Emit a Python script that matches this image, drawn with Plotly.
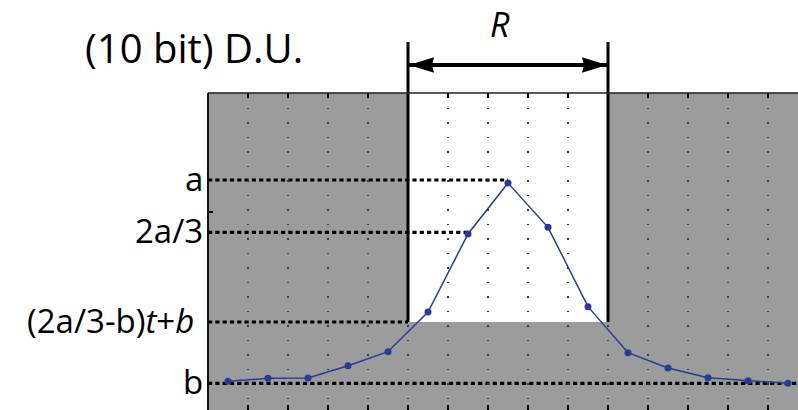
import plotly.graph_objects as go

# ---- data ----
sample_index = [0, 1, 2, 3, 4, 5, 6, 7, 8, 9, 10, 11, 12, 13, 14]
du_values = [86, 95, 96, 133, 175, 294, 528, 681, 548, 310, 172, 126, 97, 88, 80]

level_labels = ["a", "2a/3", "(2a/3-b)<i>t</i>+<i>b</i>&nbsp;", "b"]
level_values = [690, 533, 264, 80]
level_stop_x = [7, 6, 4.5, 14.25]          # where each dotted guide ends

window_start = 4.5
window_end = 9.5
window_label = "<i>R</i>"
y_title = "(10 bit) D.U."

x_grid = [0.5, 1.5, 2.5, 3.5, 4.5, 5.5, 6.5, 7.5, 8.5, 9.5, 10.5, 11.5, 12.5, 13.5]
y_ticks = [594]

x_range = [-0.5, 14.25]
y_range = [0, 951]

# ---- layout constants ----
W, H = 798, 410
ML, MR, MT, MB = 208, 0, 93, 0
plot_h = H - MT - MB
GRAY = "#9c9c9c"
BLUE = "#2c3a96"
FONT = "Open Sans"

def paper_y(v):
    return (v - y_range[0]) / (y_range[1] - y_range[0])

fig = go.Figure()
fig.add_trace(go.Scatter(
    x=sample_index, y=du_values, mode="lines+markers",
    line=dict(color=BLUE, width=1.5),
    marker=dict(color=BLUE, size=7),
    showlegend=False, hoverinfo="skip", cliponaxis=False,
))

shapes = []
# white window above the threshold level
shapes.append(dict(type="rect", xref="x", yref="y", layer="below",
                   x0=window_start, x1=window_end,
                   y0=level_values[2], y1=y_range[1],
                   fillcolor="white", line=dict(width=0)))
# dotted guide lines
for val, stop in zip(level_values, level_stop_x):
    shapes.append(dict(type="line", xref="x", yref="y", layer="below",
                       x0=x_range[0], x1=stop, y0=val, y1=val,
                       line=dict(color="black", width=3.2, dash="4.2px,3.1px")))
# window boundaries (extend above plot)
top_line = 1 + 51 / plot_h
for xv in (window_start, window_end):
    shapes.append(dict(type="line", xref="x", yref="paper", layer="above",
                       x0=xv, x1=xv, y0=paper_y(level_values[2]), y1=top_line,
                       line=dict(color="black", width=3)))
# double arrow
arrow_y = 1 + 28 / plot_h
shapes.append(dict(type="line", xref="x", yref="paper", layer="above",
                   x0=window_start, x1=window_end, y0=arrow_y, y1=arrow_y,
                   line=dict(color="black", width=4)))
shapes.append(dict(type="path", xref="x", yref="paper", layer="above",
                   xsizemode="pixel", ysizemode="pixel",
                   xanchor=window_start, yanchor=arrow_y,
                   path="M1,0 L26,7.7 L24,0 L26,-7.7 Z",
                   fillcolor="black", line=dict(width=0)))
shapes.append(dict(type="path", xref="x", yref="paper", layer="above",
                   xsizemode="pixel", ysizemode="pixel",
                   xanchor=window_end, yanchor=arrow_y,
                   path="M-1,0 L-26,7.7 L-24,0 L-26,-7.7 Z",
                   fillcolor="black", line=dict(width=0)))
# spines
shapes.append(dict(type="line", xref="paper", yref="paper", layer="above",
                   x0=0, x1=1, y0=1, y1=1, line=dict(color="#222222", width=1.5)))
shapes.append(dict(type="line", xref="paper", yref="paper", layer="above",
                   x0=0, x1=0, y0=0, y1=1, line=dict(color="#111111", width=2)))

annotations = []
for lab, val in zip(level_labels, level_values):
    annotations.append(dict(xref="paper", yref="y", x=0, y=val, text=lab,
                            showarrow=False, xanchor="right", yanchor="middle",
                            xshift=-3, yshift=2,
                            font=dict(family=FONT, size=33, color="black")))
annotations.append(dict(xref="paper", yref="paper", x=0, y=1, text=y_title,
                        showarrow=False, xanchor="left", yanchor="middle",
                        xshift=-125, yshift=46,
                        font=dict(family=FONT, size=40, color="black")))
annotations.append(dict(xref="x", yref="paper", x=(window_start + window_end) / 2,
                        y=1, text=window_label, showarrow=False,
                        xanchor="center", yanchor="middle", xshift=-8, yshift=69,
                        font=dict(family=FONT, size=34, color="black")))

fig.update_layout(
    width=W, height=H,
    margin=dict(l=ML, r=MR, t=MT, b=MB, pad=0),
    paper_bgcolor="white", plot_bgcolor=GRAY,
    shapes=shapes, annotations=annotations,
    xaxis=dict(range=x_range, tickvals=x_grid, showticklabels=False,
               ticks="inside", ticklen=5, tickwidth=2, tickcolor="black",
               mirror="ticks", showline=False, zeroline=False,
               showgrid=True, gridcolor="#3a3a3a", gridwidth=1.5,
               griddash="1.5px,13px"),
    yaxis=dict(range=y_range, tickvals=y_ticks, showticklabels=False,
               ticks="inside", ticklen=5, tickwidth=2, tickcolor="black",
               showline=False, zeroline=False, showgrid=False),
)

fig.write_html("out.html", config={"displayModeBar": False},
               post_script="document.body.style.margin='0';document.body.style.overflow='hidden';")
